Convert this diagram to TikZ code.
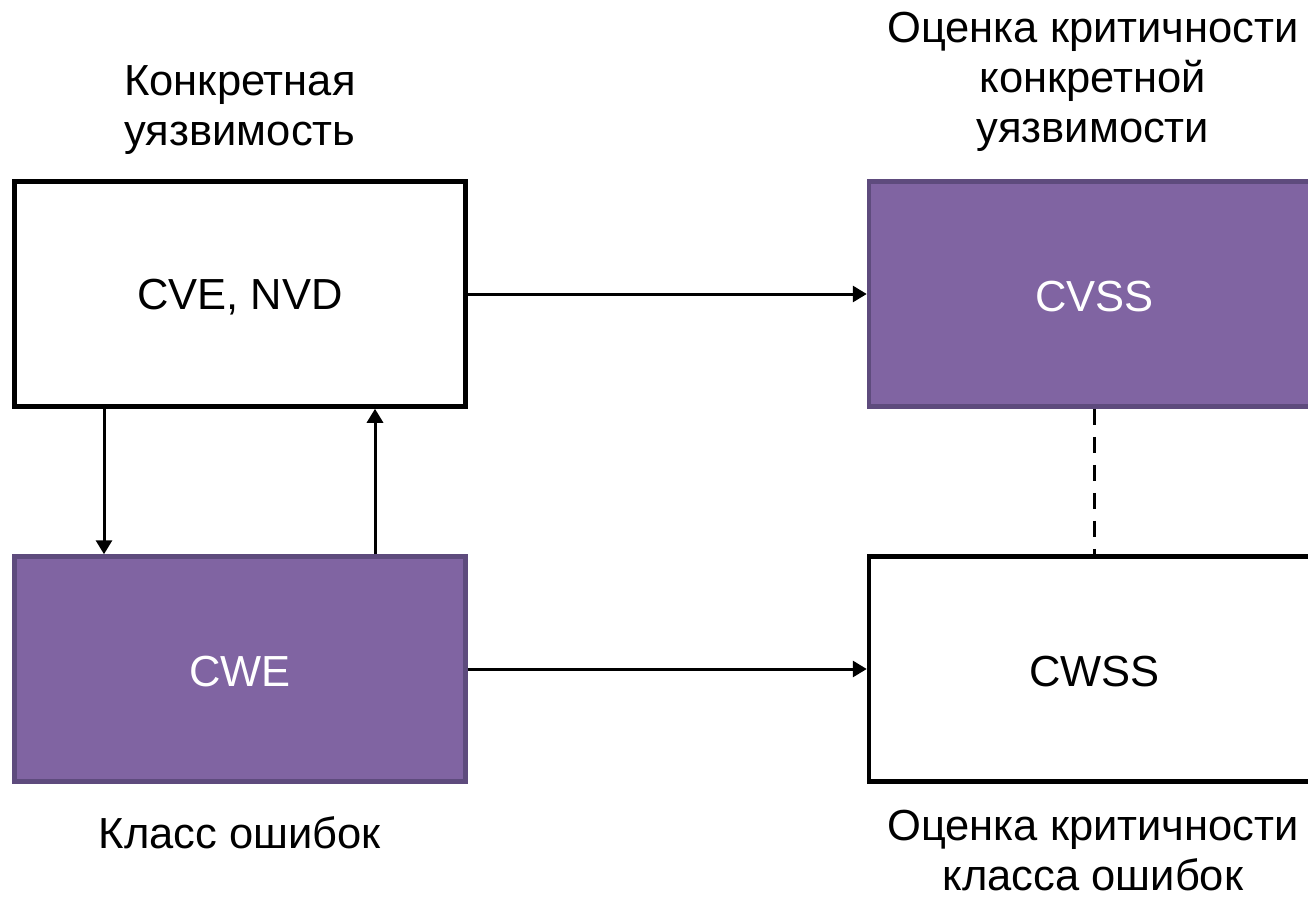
\documentclass[tikz,border=0pt]{standalone}
\usepackage{fontspec}
\setmainfont{Liberation Sans}
\usetikzlibrary{arrows.meta}
\definecolor{pfill}{HTML}{8064A2}
\definecolor{pdraw}{HTML}{5E4B7D}
\begin{document}
\begin{tikzpicture}[x=1pt,y=-1pt,
  box/.style={rectangle, line width=4.5pt, minimum width=451pt, minimum height=225pt, inner sep=0pt, font=\fontsize{43.5}{50}\selectfont},
  wbox/.style={box, draw=black, fill=white, text=black},
  pbox/.style={box, draw=pdraw, fill=pfill, text=white},
  lbl/.style={align=center, inner sep=0pt, font=\fontsize{43.5}{50}\selectfont},
  conn/.style={line width=3pt, -{Triangle[length=14pt,width=16pt]}},
  dconn/.style={line width=3pt, dash pattern=on 16pt off 12pt}]
\useasboundingbox (0,0) rectangle (1308,901);
\node[wbox] (cve) at (240,294) {};
\node[font=\fontsize{43.5}{50}\selectfont] (cvet) at (240,297) {CVE, NVD};
\node[pbox] (cvss) at (1094.5,294) {};
\node[text=white, font=\fontsize{43.5}{50}\selectfont] (cvsst) at (1094.5,297) {CVSS};
\node[pbox] (cwe) at (240,669) {};
\node[text=white, font=\fontsize{43.5}{50}\selectfont] (cwet) at (240,672) {CWE};
\node[wbox] (cwss) at (1094.5,669) {};
\node[font=\fontsize{43.5}{50}\selectfont] (cwsst) at (1094.5,672) {CWSS};
\node[lbl] (l1) at (240,110) {Конкретная\\уязвимость};
\node[lbl] (l2) at (1093,82) {Оценка критичности\\конкретной\\уязвимости};
\node[lbl] (l3) at (240,833) {Класс ошибок};
\node[lbl] (l4) at (1093,851) {Оценка критичности\\класса ошибок};
\draw[conn] (cve.east) -- (cvss.west);
\draw[conn] (cwe.east) -- (cwss.west);
\draw[conn] (cve.south -| 104,0) -- (cwe.north -| 104,0);
\draw[conn] (cwe.north -| 375,0) -- (cve.south -| 375,0);
\draw[dconn] (cvss.south) -- (cwss.north);
\end{tikzpicture}
\end{document}
